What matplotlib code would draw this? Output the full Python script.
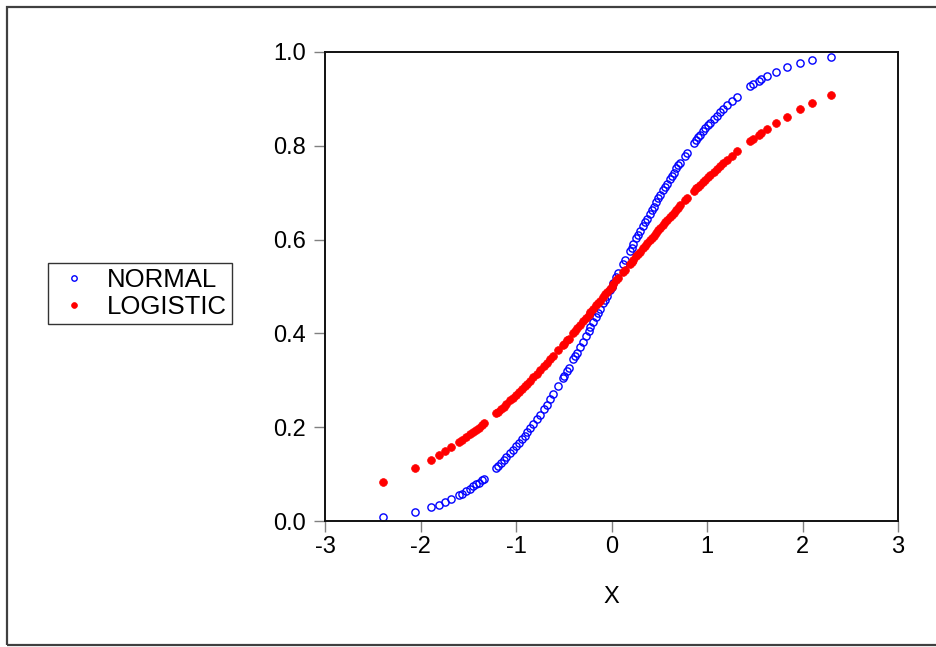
import matplotlib
matplotlib.use("Agg")
import matplotlib.pyplot as plt
from matplotlib.patches import Rectangle

plt.rcParams["font.family"] = ["Liberation Sans", "DejaVu Sans"]

# x values of the sample
x_vals = [
    -2.39, -2.06, -1.89, -1.81, -1.74, -1.68, -1.60, -1.57, -1.52, -1.48,
    -1.45, -1.42, -1.39, -1.36, -1.34, -1.21, -1.19, -1.16, -1.13, -1.10,
    -1.06, -1.03, -1.00, -0.97, -0.94, -0.91, -0.88, -0.85, -0.82, -0.78,
    -0.75, -0.71, -0.68, -0.64, -0.61, -0.56, -0.51, -0.50, -0.47, -0.45,
    -0.40, -0.38, -0.36, -0.33, -0.30, -0.27, -0.24, -0.22, -0.19, -0.16,
    -0.14, -0.12, -0.09, -0.07, -0.05, -0.02, 0.00, 0.02, 0.05, 0.07,
    0.12, 0.14, 0.19, 0.21, 0.23, 0.26, 0.28, 0.30, 0.33, 0.35,
    0.37, 0.40, 0.42, 0.44, 0.47, 0.49, 0.51, 0.54, 0.56, 0.58,
    0.61, 0.63, 0.65, 0.68, 0.70, 0.72, 0.77, 0.79, 0.86, 0.89,
    0.91, 0.93, 0.96, 0.98, 1.01, 1.03, 1.07, 1.10, 1.135, 1.17,
    1.21, 1.26, 1.31, 1.45, 1.485, 1.54, 1.57, 1.625, 1.72, 1.835,
    1.97, 2.10, 2.295,
]

normal_vals = [
    0.008, 0.020, 0.029, 0.035, 0.041, 0.047, 0.055, 0.058, 0.064, 0.069,
    0.074, 0.078, 0.082, 0.087, 0.090, 0.113, 0.117, 0.123, 0.129, 0.136,
    0.145, 0.152, 0.159, 0.166, 0.174, 0.181, 0.189, 0.198, 0.206, 0.218,
    0.227, 0.239, 0.248, 0.261, 0.271, 0.288, 0.305, 0.309, 0.319, 0.326,
    0.345, 0.352, 0.359, 0.371, 0.382, 0.394, 0.405, 0.413, 0.425, 0.436,
    0.444, 0.452, 0.464, 0.472, 0.480, 0.492, 0.500, 0.508, 0.520, 0.528,
    0.548, 0.556, 0.575, 0.583, 0.591, 0.603, 0.610, 0.618, 0.629, 0.637,
    0.644, 0.655, 0.663, 0.670, 0.681, 0.688, 0.695, 0.705, 0.712, 0.719,
    0.729, 0.736, 0.742, 0.752, 0.758, 0.764, 0.779, 0.785, 0.805, 0.813,
    0.819, 0.824, 0.832, 0.837, 0.844, 0.849, 0.858, 0.864, 0.872, 0.879,
    0.887, 0.896, 0.905, 0.927, 0.931, 0.938, 0.942, 0.948, 0.957, 0.967,
    0.976, 0.982, 0.989,
]

logistic_vals = [
    0.084, 0.113, 0.131, 0.141, 0.149, 0.157, 0.168, 0.172, 0.180, 0.185,
    0.190, 0.195, 0.199, 0.204, 0.208, 0.230, 0.233, 0.239, 0.244, 0.250,
    0.257, 0.263, 0.269, 0.275, 0.281, 0.287, 0.293, 0.299, 0.306, 0.314,
    0.321, 0.330, 0.336, 0.345, 0.352, 0.364, 0.375, 0.378, 0.385, 0.389,
    0.401, 0.406, 0.411, 0.418, 0.426, 0.433, 0.440, 0.445, 0.453, 0.460,
    0.465, 0.470, 0.478, 0.483, 0.488, 0.495, 0.500, 0.505, 0.513, 0.518,
    0.530, 0.535, 0.547, 0.552, 0.557, 0.565, 0.570, 0.574, 0.582, 0.587,
    0.592, 0.599, 0.604, 0.608, 0.615, 0.620, 0.625, 0.632, 0.637, 0.641,
    0.648, 0.653, 0.657, 0.664, 0.668, 0.673, 0.684, 0.688, 0.703, 0.709,
    0.713, 0.717, 0.723, 0.727, 0.733, 0.737, 0.745, 0.750, 0.757, 0.763,
    0.770, 0.779, 0.788, 0.810, 0.815, 0.824, 0.828, 0.836, 0.848, 0.862,
    0.878, 0.891, 0.909,
]

x_ticks = [-3, -2, -1, 0, 1, 2, 3]
y_ticks = [0.0, 0.2, 0.4, 0.6, 0.8, 1.0]

fig = plt.figure(figsize=(9.37, 6.47), dpi=100)

# outer frame (runs off the right edge like the reference)
W, H = 937.0, 647.0
fig.patches.append(Rectangle((7 / W, 1 - 645 / H), 1.0, (645 - 7) / H,
                             transform=fig.transFigure, fill=False,
                             edgecolor="#404040", linewidth=1.6))

ax = fig.add_axes([325 / W, 1 - 521 / H, (898 - 325) / W, (521 - 52) / H])

ax.plot(x_vals, normal_vals, linestyle="none", marker="o", markersize=5.2,
        markerfacecolor="none", markeredgecolor="#0000ff",
        markeredgewidth=1.0, label="NORMAL")
ax.plot(x_vals, logistic_vals, linestyle="none", marker="o", markersize=5.6,
        markerfacecolor="#ff0000", markeredgecolor="#ff0000",
        markeredgewidth=0.5, label="LOGISTIC")

ax.set_xlim(-3, 3)
ax.set_ylim(0, 1)
ax.set_xticks(x_ticks)
ax.set_xticklabels([str(t) for t in x_ticks])
ax.set_yticks(y_ticks)
ax.set_yticklabels([f"{t:.1f}" for t in y_ticks])
ax.tick_params(axis="both", direction="out", length=8, width=1.0,
               color="#808080", labelsize=17)
ax.tick_params(axis="x", pad=3)
ax.tick_params(axis="y", pad=6)
for sp in ax.spines.values():
    sp.set_linewidth(1.4)
    sp.set_color("#111111")

ax.set_xlabel("X", fontsize=17, labelpad=20)

leg = fig.legend(loc="upper left", bbox_to_anchor=(48 / W, 1 - 263 / H),
                 fontsize=18.5, frameon=True, fancybox=False, markerscale=0.75,
                 handletextpad=0.5, borderpad=0.2, labelspacing=0.1,
                 handlelength=1.6, borderaxespad=0)
leg.get_frame().set_edgecolor("black")
leg.get_frame().set_linewidth(1.0)

fig.savefig("out.png", dpi=100)
